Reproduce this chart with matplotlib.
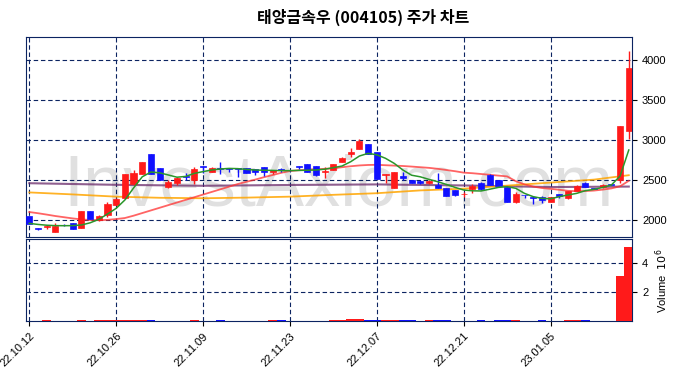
import numpy as np
import pandas as pd
import matplotlib
matplotlib.use("Agg")
import matplotlib.pyplot as plt
from matplotlib.ticker import FuncFormatter

plt.rcParams["font.family"] = ["Liberation Sans", "Noto Sans CJK KR", "DejaVu Sans"]

TITLE = "태양금속우 (004105) 주가 차트"

# ------------ data ---------------------------------
# trading days 2022-10-12 .. 2023-01-18 (KRX closed 2022-12-30)
dates = pd.bdate_range("2022-10-12", "2023-01-18")
dates = dates[dates != pd.Timestamp("2022-12-30")]

opens = [2050, 1900, 1912, 1846, 1940, 1958, 1904, 2112, 1996, 2058,
         2192, 2271, 2450, 2575, 2825, 2650, 2412, 2458, 2550, 2500,
         2675, 2596, 2650, 2650, 2646, 2646, 2633, 2658, 2604, 2633,
         2625, 2675, 2700, 2675, 2596, 2625, 2729, 2829, 2892, 2950,
         2850, 2563, 2404, 2550, 2496, 2492, 2458, 2437, 2396, 2375,
         2321, 2388, 2458, 2563, 2500, 2417, 2221, 2313, 2292, 2292,
         2229, 2325, 2271, 2363, 2467, 2396, 2408, 2450, 2500, 3115]
highs = [2055, 1902, 1932, 1962, 1955, 1960, 2115, 2115, 2058, 2221,
         2280, 2580, 2625, 2730, 2830, 2655, 2500, 2542, 2592, 2658,
         2678, 2662, 2730, 2655, 2650, 2650, 2635, 2660, 2628, 2654,
         2630, 2680, 2705, 2678, 2667, 2705, 2785, 2896, 3008, 2955,
         2855, 2578, 2600, 2596, 2500, 2495, 2500, 2592, 2400, 2378,
         2354, 2446, 2475, 2571, 2505, 2420, 2354, 2316, 2295, 2295,
         2292, 2328, 2367, 2438, 2470, 2400, 2450, 2452, 3180, 4115]
lows = [1946, 1878, 1883, 1846, 1920, 1890, 1900, 2017, 1994, 2042,
        2190, 2268, 2433, 2570, 2575, 2500, 2395, 2437, 2500, 2446,
        2583, 2594, 2575, 2600, 2542, 2590, 2563, 2554, 2571, 2604,
        2618, 2633, 2604, 2550, 2529, 2620, 2725, 2783, 2890, 2829,
        2508, 2458, 2400, 2500, 2458, 2450, 2455, 2396, 2304, 2300,
        2292, 2333, 2375, 2438, 2429, 2221, 2218, 2271, 2200, 2208,
        2225, 2279, 2268, 2360, 2408, 2385, 2405, 2435, 2460, 3015]
closes = [1946, 1882, 1929, 1921, 1935, 1892, 2112, 2017, 2050, 2200,
          2267, 2575, 2583, 2725, 2579, 2500, 2479, 2529, 2542, 2637,
          2663, 2650, 2633, 2633, 2633, 2592, 2604, 2604, 2625, 2625,
          2621, 2662, 2604, 2563, 2617, 2700, 2779, 2850, 2992, 2829,
          2508, 2575, 2596, 2529, 2458, 2458, 2483, 2396, 2304, 2317,
          2329, 2425, 2392, 2438, 2429, 2221, 2321, 2308, 2280, 2250,
          2292, 2304, 2367, 2425, 2408, 2388, 2438, 2438, 3175, 3900]
volumes = [15000, 10000, 80000, 20000, 10000, 20000, 80000, 20000, 80000, 90000,
           80000, 90000, 80000, 80000, 80000, 20000, 20000, 15000, 10000, 70000,
           10000, 20000, 70000, 10000, 20000, 20000, 10000, 20000, 70000, 70000,
           5000, 20000, 20000, 20000, 20000, 80000, 80000, 140000, 150000, 80000,
           90000, 80000, 80000, 70000, 70000, 20000, 70000, 80000, 70000, 20000,
           20000, 20000, 70000, 20000, 70000, 80000, 70000, 10000, 20000, 70000,
           20000, 20000, 80000, 80000, 70000, 10000, 20000, 20000, 3120000, 5130000]

ma5 = [1958, 1945, 1935, 1930, 1929, 1930, 1938, 1965, 2008, 2075,
       2146, 2250, 2400, 2540, 2600, 2590, 2563, 2535, 2545, 2583,
       2605, 2625, 2638, 2645, 2642, 2632, 2625, 2622, 2620, 2617,
       2617, 2620, 2622, 2625, 2635, 2654, 2675, 2729, 2800, 2833,
       2815, 2771, 2708, 2625, 2560, 2540, 2508, 2479, 2445, 2408,
       2375, 2365, 2363, 2385, 2408, 2417, 2396, 2333, 2292, 2271,
       2265, 2292, 2313, 2333, 2367, 2383, 2408, 2438, 2550, 2875]
ma20 = [2100, 2085, 2068, 2050, 2035, 2020, 2008, 2000, 1998, 2002,
        2012, 2025, 2054, 2087, 2120, 2153, 2186, 2219, 2252, 2285,
        2318, 2351, 2384, 2417, 2450, 2478, 2505, 2535, 2562, 2590,
        2612, 2622, 2628, 2634, 2640, 2646, 2660, 2672, 2682, 2688,
        2690, 2685, 2680, 2675, 2668, 2660, 2652, 2640, 2625, 2610,
        2592, 2585, 2575, 2565, 2555, 2545, 2485, 2445, 2418, 2400,
        2390, 2378, 2365, 2360, 2362, 2368, 2380, 2395, 2422, 2490]
ma60_days = [0, 5, 10, 15, 20, 25, 30, 35, 40, 45, 50, 55, 60, 65, 69]
ma60 = [2345, 2320, 2292, 2278, 2272, 2280, 2292, 2315, 2335, 2370,
        2392, 2430, 2468, 2505, 2560]
ma120_days = [0, 10, 20, 30, 40, 50, 60, 69]
ma120 = [2460, 2440, 2428, 2438, 2445, 2432, 2412, 2418]

price_ticks = [2000, 2500, 3000, 3500, 4000]
vol_ticks = [2e6, 4e6]

# ---------visualization---------
UP = "#ff1a1a"
DOWN = "#1010ff"
GRID = "#0c2461"

x = np.arange(len(dates))
o = np.array(opens)
c = np.array(closes)
colors = [UP if cc >= oo else DOWN for oo, cc in zip(o, c)]

fig = plt.figure(figsize=(6.8, 3.78), dpi=100)
ax = fig.add_axes([0.0382, 0.3722, 0.8916, 0.5299])
axv = fig.add_axes([0.0382, 0.150, 0.8916, 0.2169], sharex=ax)

# watermark
ax.text(0.515, 0.25, "InvestAxiom.com", transform=ax.transAxes, ha="center", va="center",
        fontsize=52, color="#e0e0e0", family="Liberation Sans", zorder=0)

# moving averages
ax.plot(ma120_days, ma120, color="#6a2a6a", alpha=0.75, lw=1.5, zorder=2)
ax.plot(ma60_days, ma60, color="#ffa500", alpha=0.85, lw=1.3, zorder=2)
ax.plot(x, ma20, color="#ff3030", alpha=0.75, lw=1.3, zorder=2)
ax.plot(x, ma5, color="#2a962a", lw=1.1, zorder=4)

# candles
ax.vlines(x, lows, highs, colors=colors, lw=1.0, zorder=3)
body = np.maximum(np.abs(c - o), 6)
ax.bar(x, body, bottom=np.minimum(o, c), width=0.7, color=colors, edgecolor=colors, lw=0.5, zorder=3)

# volume
axv.bar(x, volumes, width=1.0, color=colors, zorder=3)

for a in (ax, axv):
    a.grid(True, color=GRID, ls=(0, (4, 2.5)), lw=0.8)
    a.set_axisbelow(True)
    for s in a.spines.values():
        s.set_color(GRID)
    a.yaxis.tick_right()
    a.tick_params(labelsize=8, colors="black")

ax.set_xlim(-0.38, 69.4)
ax.set_ylim(1784, 4287)
ax.set_yticks(price_ticks)
ax.tick_params(axis="x", labelbottom=False, length=0)

axv.set_ylim(0, max(volumes) * 1.105)
axv.set_yticks(vol_ticks)
axv.yaxis.set_major_formatter(FuncFormatter(lambda v, p: f"{v / 1e6:g}"))
axv.yaxis.set_label_position("right")
axv.set_ylabel(r"Volume  $10^{6}$", fontsize=8)

tick_pos = x[::10]
axv.set_xticks(tick_pos)
axv.set_xticklabels([dates[i].strftime("%y.%m.%d") for i in tick_pos],
                    rotation=45, ha="right", rotation_mode="anchor")

fig.text(0.534, 0.953, TITLE, ha="center", va="center", fontsize=11.5, weight="bold",
         family=["Noto Sans CJK KR", "DejaVu Sans"])

fig.savefig("out.png", dpi=100)
